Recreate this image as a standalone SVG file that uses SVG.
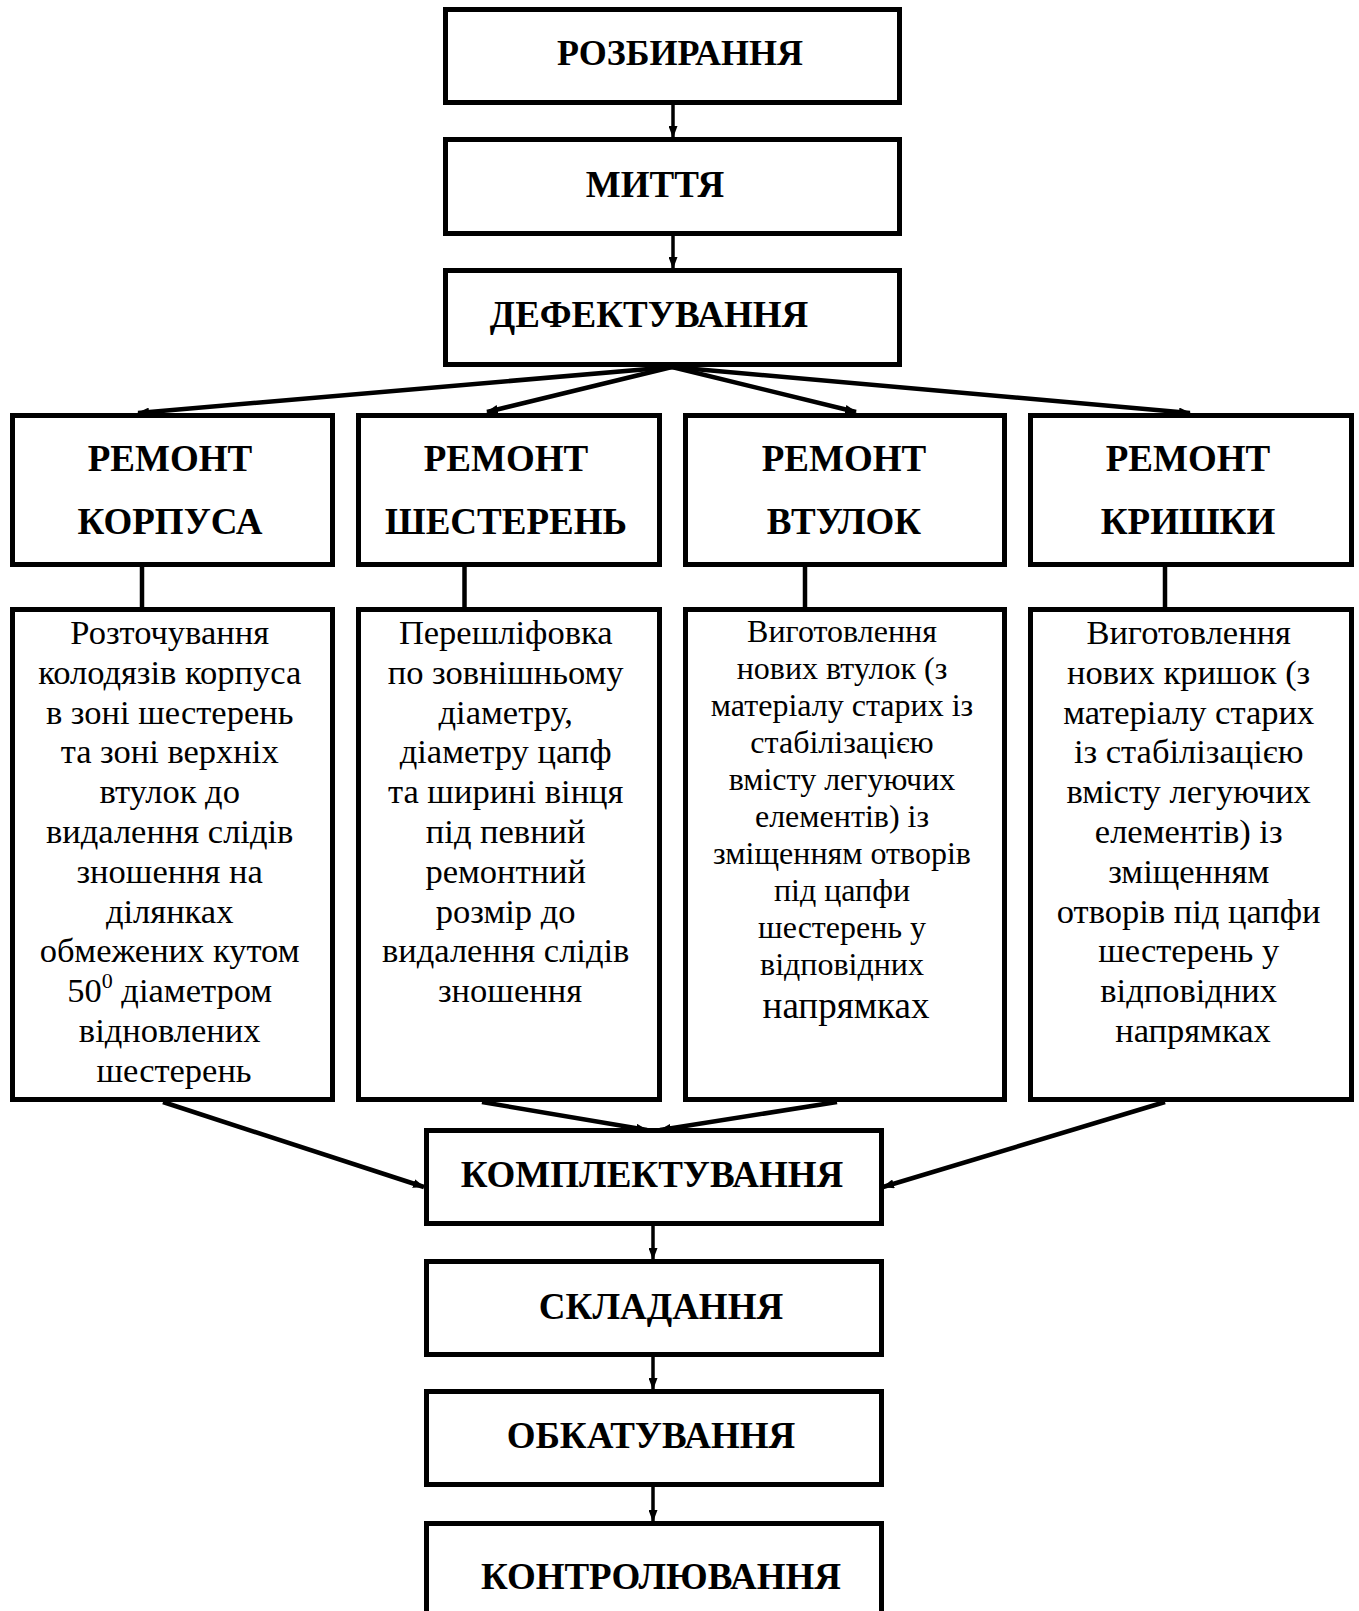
<svg xmlns="http://www.w3.org/2000/svg" width="1359" height="1611" viewBox="0 0 1359 1611">
<style>
.box{fill:#fff;stroke:#000;stroke-width:5}
.h{font-family:"Liberation Serif","Times New Roman",serif;font-weight:bold;font-size:37px;text-anchor:middle;fill:#000}
.d{font-family:"Liberation Serif","Times New Roman",serif;font-size:34.5px;text-anchor:middle;fill:#000}
.d2{font-family:"Liberation Serif","Times New Roman",serif;font-size:32px;text-anchor:middle;fill:#000}
.ln{stroke:#000;stroke-width:4.5;fill:none}
.va{stroke:#000;stroke-width:3.5;fill:none}
</style>
<defs>
<marker id="ah" markerUnits="userSpaceOnUse" markerWidth="12" markerHeight="9" refX="11" refY="4.5" orient="auto" viewBox="0 0 12 9">
<path d="M0,0 L12,4.5 L0,9 z" fill="#000"/>
</marker>
</defs>
<rect width="1359" height="1611" fill="#fff"/>
<g id="connectors">
<line class="va" x1="673" y1="105" x2="673" y2="137" marker-end="url(#ah)"/>
<line class="va" x1="673" y1="236" x2="673" y2="268" marker-end="url(#ah)"/>
<line class="ln" x1="672" y1="367" x2="138" y2="413" marker-end="url(#ah)"/>
<line class="ln" x1="672" y1="367" x2="487" y2="412" marker-end="url(#ah)"/>
<line class="ln" x1="672" y1="367" x2="856" y2="412" marker-end="url(#ah)"/>
<line class="ln" x1="672" y1="367" x2="1190" y2="413" marker-end="url(#ah)"/>
<line class="ln" x1="142" y1="567" x2="142" y2="607"/>
<line class="ln" x1="464.5" y1="567" x2="464.5" y2="607"/>
<line class="ln" x1="805" y1="567" x2="805" y2="607"/>
<line class="ln" x1="1165" y1="567" x2="1165" y2="607"/>
<line class="ln" x1="163" y1="1102" x2="424" y2="1187" marker-end="url(#ah)"/>
<line class="ln" x1="482" y1="1102" x2="647" y2="1130" marker-end="url(#ah)"/>
<line class="ln" x1="837" y1="1102" x2="660" y2="1130" marker-end="url(#ah)"/>
<line class="ln" x1="1165" y1="1102" x2="883" y2="1187" marker-end="url(#ah)"/>
<line class="va" x1="653" y1="1226" x2="653" y2="1259" marker-end="url(#ah)"/>
<line class="va" x1="653" y1="1357" x2="653" y2="1389" marker-end="url(#ah)"/>
<line class="va" x1="653" y1="1487" x2="653" y2="1521" marker-end="url(#ah)"/>
</g>
<g id="n-rozbyrannia">
<rect class="box" x="445.5" y="9.5" width="454" height="93"/>
<text class="h" x="680" y="65" style="font-size:36px">РОЗБИРАННЯ</text>
</g>
<g id="n-myttia">
<rect class="box" x="445.5" y="139.5" width="454" height="94"/>
<text class="h" x="655" y="197">МИТТЯ</text>
</g>
<g id="n-defektuvannia">
<rect class="box" x="445.5" y="270.5" width="454" height="94"/>
<text class="h" x="649" y="327">ДЕФЕКТУВАННЯ</text>
</g>
<g id="n-remont-korpusa">
<rect class="box" x="12.5" y="415.5" width="320" height="149"/>
<text class="h" x="170" y="471">РЕМОНТ</text>
<text class="h" x="170" y="534">КОРПУСА</text>
</g>
<g id="n-remont-shesteren">
<rect class="box" x="358.5" y="415.5" width="301" height="149"/>
<text class="h" x="506" y="471">РЕМОНТ</text>
<text class="h" x="506" y="534">ШЕСТЕРЕНЬ</text>
</g>
<g id="n-remont-vtulok">
<rect class="box" x="685.5" y="415.5" width="319" height="149"/>
<text class="h" x="844" y="471">РЕМОНТ</text>
<text class="h" x="844" y="534">ВТУЛОК</text>
</g>
<g id="n-remont-kryshky">
<rect class="box" x="1030.5" y="415.5" width="321" height="149"/>
<text class="h" x="1188" y="471">РЕМОНТ</text>
<text class="h" x="1188" y="534">КРИШКИ</text>
</g>
<g id="n-opys-korpusa">
<rect class="box" x="12.5" y="609.5" width="320" height="490"/>
<text class="d" x="174" y="644">
<tspan x="174">Розточування</tspan>
<tspan x="174" dy="39.8">колодязів корпуса</tspan>
<tspan x="174" dy="39.8">в зоні шестерень</tspan>
<tspan x="174" dy="39.8">та зоні верхніх</tspan>
<tspan x="174" dy="39.8">втулок до</tspan>
<tspan x="174" dy="39.8">видалення слідів</tspan>
<tspan x="174" dy="39.8">зношення на</tspan>
<tspan x="174" dy="39.8">ділянках</tspan>
<tspan x="174" dy="39.8">обмежених кутом</tspan>
<tspan x="174" dy="39.8">50<tspan font-size="22" dy="-14">0</tspan><tspan dy="14"> діаметром</tspan></tspan>
<tspan x="174" dy="39.8">відновлених</tspan>
<tspan x="174" dy="39.8">шестерень</tspan>
</text>
</g>
<g id="n-opys-shesteren">
<rect class="box" x="358.5" y="609.5" width="301" height="490"/>
<text class="d" x="510" y="644">
<tspan x="510">Перешліфовка</tspan>
<tspan x="510" dy="39.8">по зовнішньому</tspan>
<tspan x="510" dy="39.8">діаметру,</tspan>
<tspan x="510" dy="39.8">діаметру цапф</tspan>
<tspan x="510" dy="39.8">та ширині вінця</tspan>
<tspan x="510" dy="39.8">під певний</tspan>
<tspan x="510" dy="39.8">ремонтний</tspan>
<tspan x="510" dy="39.8">розмір до</tspan>
<tspan x="510" dy="39.8">видалення слідів</tspan>
<tspan x="510" dy="39.8">зношення</tspan>
</text>
</g>
<g id="n-opys-vtulok">
<rect class="box" x="685.5" y="609.5" width="319" height="490"/>
<text class="d2" x="846" y="642">
<tspan x="846">Виготовлення</tspan>
<tspan x="846" dy="37">нових втулок (з</tspan>
<tspan x="846" dy="37">матеріалу старих із</tspan>
<tspan x="846" dy="37">стабілізацією</tspan>
<tspan x="846" dy="37">вмісту легуючих</tspan>
<tspan x="846" dy="37">елементів) із</tspan>
<tspan x="846" dy="37">зміщенням отворів</tspan>
<tspan x="846" dy="37">під цапфи</tspan>
<tspan x="846" dy="37">шестерень у</tspan>
<tspan x="846" dy="37">відповідних</tspan>
<tspan x="846" dy="43" font-size="37">напрямках</tspan>
</text>
</g>
<g id="n-opys-kryshky">
<rect class="box" x="1030.5" y="609.5" width="321" height="490"/>
<text class="d" x="1193" y="644">
<tspan x="1193">Виготовлення</tspan>
<tspan x="1193" dy="39.8">нових кришок (з</tspan>
<tspan x="1193" dy="39.8">матеріалу старих</tspan>
<tspan x="1193" dy="39.8">із стабілізацією</tspan>
<tspan x="1193" dy="39.8">вмісту легуючих</tspan>
<tspan x="1193" dy="39.8">елементів) із</tspan>
<tspan x="1193" dy="39.8">зміщенням</tspan>
<tspan x="1193" dy="39.8">отворів під цапфи</tspan>
<tspan x="1193" dy="39.8">шестерень у</tspan>
<tspan x="1193" dy="39.8">відповідних</tspan>
<tspan x="1193" dy="39.8">напрямках</tspan>
</text>
</g>
<g id="n-komplektuvannia">
<rect class="box" x="426.5" y="1130.5" width="455" height="93"/>
<text class="h" x="652" y="1187">КОМПЛЕКТУВАННЯ</text>
</g>
<g id="n-skladannia">
<rect class="box" x="426.5" y="1261.5" width="455" height="93"/>
<text class="h" x="661" y="1319">СКЛАДАННЯ</text>
</g>
<g id="n-obkatuvannia">
<rect class="box" x="426.5" y="1391.5" width="455" height="93"/>
<text class="h" x="651" y="1448">ОБКАТУВАННЯ</text>
</g>
<g id="n-kontroliuvannia">
<rect class="box" x="426.5" y="1523.5" width="455" height="110"/>
<text class="h" x="661" y="1589">КОНТРОЛЮВАННЯ</text>
</g>
</svg>
